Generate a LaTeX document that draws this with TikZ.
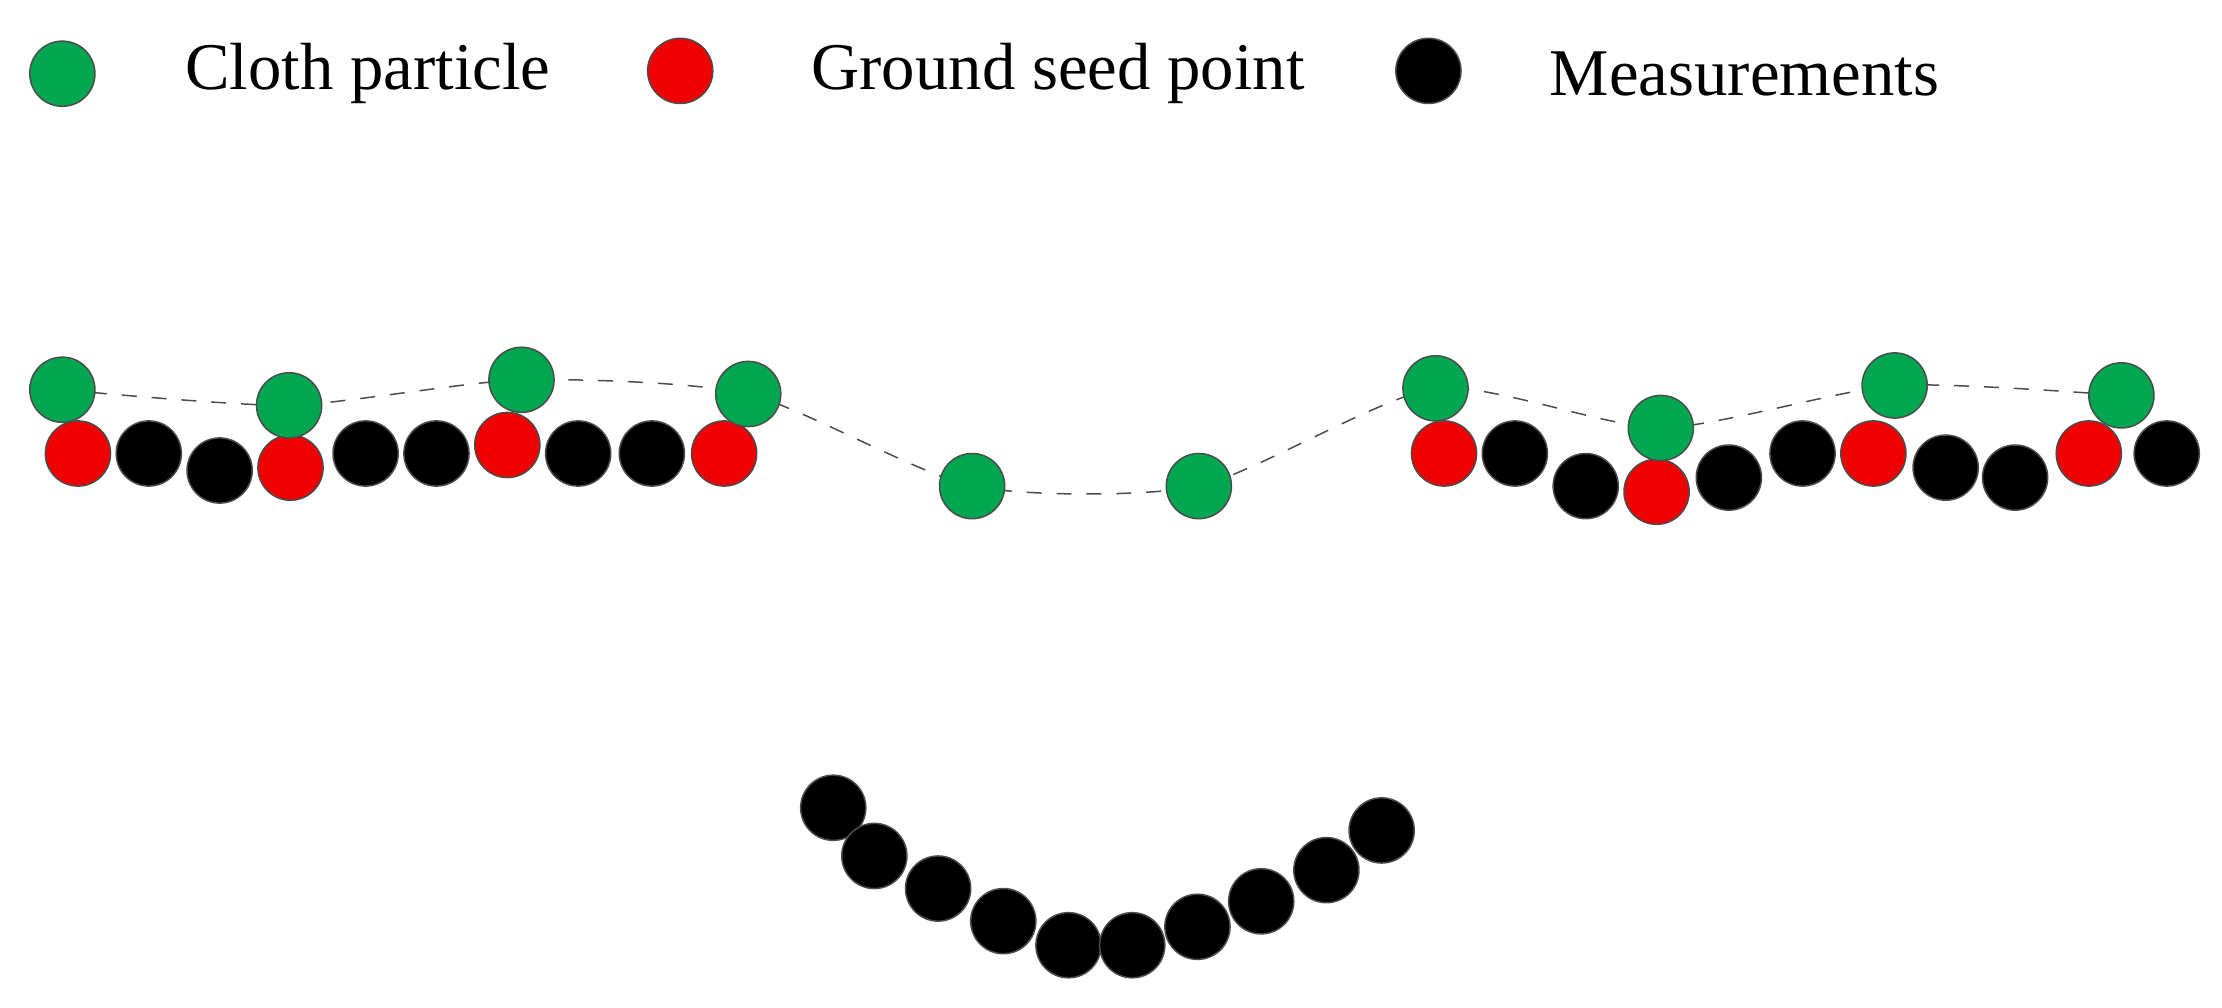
\documentclass[tikz,border=0pt]{standalone}
\usepackage{fontspec}
\setmainfont{Liberation Serif}
\begin{document}
\begin{tikzpicture}[x=0.1mm,y=-0.1mm,
  pt/.style={circle,draw=black!70,line width=0.3pt,minimum size=4.6mm,inner sep=0},
  gp/.style={pt,fill={rgb,255:red,0;green,166;blue,80}},
  rp/.style={pt,fill={rgb,255:red,240;green,0;blue,0}},
  bp/.style={pt,fill=black},
  lab/.style={anchor=west,font=\fontsize{13.4}{16}\selectfont,inner sep=0}]
\useasboundingbox (0,0) rectangle (1568,711);
% legend
\node[gp] (lg) at (44,52) {};
\node[lab] (lgt) at (130,52) {Cloth particle};
\node[rp] (lr) at (480,50) {};
\node[lab] (lrt) at (572,52) {Ground seed point};
\node[bp] (lb) at (1008,50) {};
\node[lab] (lbt) at (1093,52) {Measurements};
% dashed line
\draw[dashed,black!70,line width=0.3pt] plot[smooth,tension=0.4] coordinates {(44,275) (204,286) (368,268) (528,278) (686,343) (846,343) (1013,274) (1172,302) (1337,272) (1497,279)};
% row points
\foreach \x/\y/\s [count=\i] in {55/320/rp,105/320/bp,155/332/bp,205/330/rp,258/320/bp,308/320/bp,358/314/rp,408/320/bp,460/320/bp,511/320/rp,
 1019/320/rp,1069/320/bp,1119/343/bp,1169/347/rp,1220/337/bp,1272/320/bp,1322/320/rp,1373/330/bp,1422/337/bp,1474/320/rp,1529/320/bp}
  \node[\s] (m\i) at (\x,\y) {};
% greens
\foreach \x/\y [count=\i] in {44/275,204/286,368/268,528/278,686/343,846/343,1013/274,1172/302,1337/272,1497/279}
  \node[gp] (g\i) at (\x,\y) {};
% bottom arc
\foreach \x/\y [count=\i] in {588/570,617/604,662/627,708/650,754/667,799/667,845/654,890/636,936/614,975/586}
  \node[bp] (a\i) at (\x,\y) {};
\end{tikzpicture}
\end{document}
